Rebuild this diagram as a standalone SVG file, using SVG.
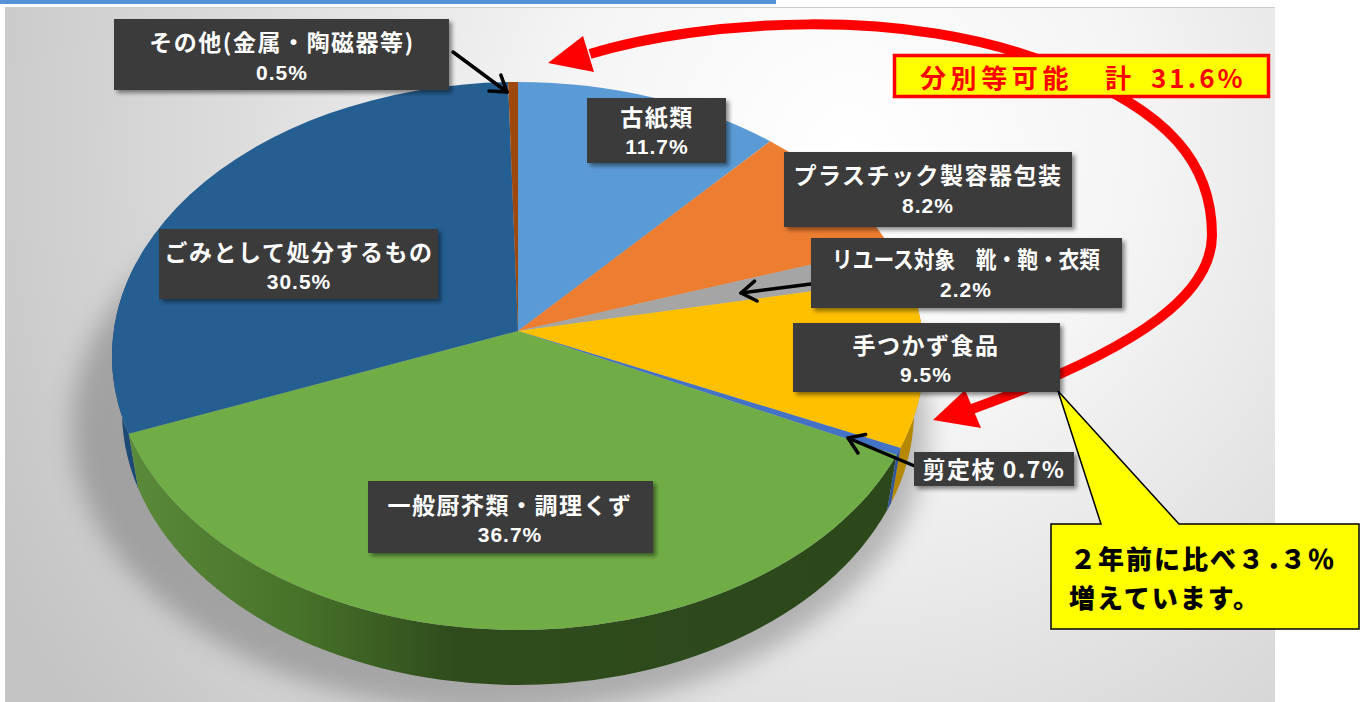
<svg xmlns="http://www.w3.org/2000/svg" width="1366" height="702" viewBox="0 0 1366 702">
<defs>
<radialGradient id="bg" gradientUnits="userSpaceOnUse" cx="850" cy="150" r="950">
<stop offset="0" stop-color="#ffffff"/>
<stop offset="0.3" stop-color="#f5f5f5"/>
<stop offset="1" stop-color="#c4c4c4"/>
</radialGradient>
<linearGradient id="gside" gradientUnits="userSpaceOnUse" x1="130" y1="0" x2="900" y2="0">
<stop offset="0" stop-color="#5a8a3a"/>
<stop offset="0.22" stop-color="#477229"/>
<stop offset="0.42" stop-color="#2f4c1d"/>
<stop offset="1" stop-color="#2c481b"/>
</linearGradient>
<filter id="ds" x="-10%" y="-20%" width="130%" height="150%">
<feDropShadow dx="3" dy="3" stdDeviation="2" flood-color="#000" flood-opacity="0.45"/>
</filter>
<filter id="blur" x="-20%" y="-20%" width="140%" height="140%">
<feGaussianBlur stdDeviation="12"/>
</filter>
<marker id="v" viewBox="-20 -14 24 28" refX="0" refY="0" markerWidth="24" markerHeight="28" markerUnits="userSpaceOnUse" orient="auto">
<path d="M-15,-10 L0,0 L-15,10" fill="none" stroke="#000" stroke-width="3.5" stroke-linecap="round" stroke-linejoin="round"/>
</marker>
<style>
.box{fill:#3b3b3b;filter:url(#ds)}
.lt{font-family:"Noto Sans CJK JP","Noto Sans",sans-serif;font-size:23px;fill:#ffffff;text-anchor:middle;font-weight:bold;letter-spacing:1.5px}
.nt{font-family:"Liberation Sans","Noto Sans CJK JP",sans-serif;font-size:21px;fill:#ffffff;text-anchor:middle;font-weight:bold;letter-spacing:1px}
.arr{fill:none;stroke:#000;stroke-width:3.5;stroke-linecap:round;marker-end:url(#v)}
.red{fill:none;stroke:#ff0000;stroke-width:10}
.redh{fill:#ff0000}
</style>
</defs>

<!-- page chrome / background -->
<rect x="0" y="0" width="776" height="4" fill="#5592d6"/>
<rect x="5" y="7" width="1270" height="695" fill="url(#bg)"/>
<line x1="5" y1="7.5" x2="1275" y2="7.5" stroke="#cccccc" stroke-width="1"/>

<!-- pie shadow -->
<ellipse cx="500" cy="428" rx="428" ry="285" fill="#444" opacity="0.33" filter="url(#blur)"/>

<!-- pie -->
<g id="pie">
<g id="sides">
<path d="M128.7,433.8 A406,274 0 0 1 136.5,262.3 L145.9,317.3 A396,274 0 0 0 138.3,488.8 Z" fill="#1d4a75"/>
<path d="M896.5,455.1 A406,274 0 0 1 128.7,433.8 L138.3,488.8 A396,274 0 0 0 887.2,510.1 Z" fill="url(#gside)"/>
<path d="M907.3,278.2 A406,274 0 0 1 900.5,447.9 L891.1,502.9 A396,274 0 0 0 897.7,333.2 Z" fill="#b58800"/>
<path d="M900.5,447.9 A406,274 0 0 1 896.5,455.1 L887.2,510.1 A396,274 0 0 0 891.1,502.9 Z" fill="#2f5597"/>
</g>
<g id="slice-paper"><path d="M518,331 L518,82 A406,274 0 0 1 770.2,141.3 Z" fill="#5b9bd5"/></g>
<g id="slice-plastic"><path d="M518,331 L770.2,141.3 A406,274 0 0 1 890.3,246.8 Z" fill="#ed7d31"/></g>
<g id="slice-reuse"><path d="M518,331 L890.3,246.8 A406,274 0 0 1 907.3,278.2 Z" fill="#a5a5a5"/></g>
<g id="slice-food"><path d="M518,331 L907.3,278.2 A406,274 0 0 1 900.5,447.9 Z" fill="#ffc000"/></g>
<g id="slice-branch"><path d="M518,331 L900.5,447.9 A406,274 0 0 1 896.5,455.1 Z" fill="#4472c4"/></g>
<g id="slice-kitchen"><path d="M518,331 L896.5,455.1 A406,274 0 0 1 128.7,433.8 Z" fill="#70ad47"/></g>
<g id="slice-garbage"><path d="M518,331 L128.7,433.8 A406,274 0 0 1 508.1,82.1 Z" fill="#255e91"/></g>
<g id="slice-other"><path d="M518,331 L508.1,82.1 A406,274 0 0 1 518,82 Z" fill="#9e480e"/></g>
</g>

<!-- connectors -->
<g id="connectors">
<line class="arr" x1="453" y1="52" x2="507" y2="92"/>
<line class="arr" x1="811" y1="284" x2="741" y2="293"/>
<line class="arr" x1="917" y1="467" x2="848" y2="438"/>
<path class="red" d="M590,54 C700,20 910,5 1055,66 C1172,112 1212,165 1212,235 C1212,290 1150,345 972,409"/>
<polygon class="redh" points="548,63 583,36 594,72"/>
<polygon class="redh" points="933,420 965,390 981,428"/>
</g>

<!-- labels -->
<g id="label-other">
<rect class="box" x="114" y="19" width="335" height="71"/>
<text class="lt" x="282" y="51">その他(金属・陶磁器等)</text>
<text class="nt" x="282" y="80">0.5%</text>
</g>
<g id="label-paper">
<rect class="box" x="587" y="98" width="139" height="65"/>
<text class="lt" x="657" y="126">古紙類</text>
<text class="nt" x="657" y="154">11.7%</text>
</g>
<g id="label-plastic">
<rect class="box" x="784" y="152" width="288" height="75"/>
<text class="lt" x="928" y="184">プラスチック製容器包装</text>
<text class="nt" x="928" y="213">8.2%</text>
</g>
<g id="label-reuse">
<rect class="box" x="811" y="238" width="311" height="70"/>
<text class="lt" x="966" y="268" textLength="268" lengthAdjust="spacingAndGlyphs" style="letter-spacing:0">リユース対象　靴・鞄・衣類</text>
<text class="nt" x="966" y="297">2.2%</text>
</g>
<g id="label-food">
<rect class="box" x="793" y="323" width="267" height="69"/>
<text class="lt" x="926" y="354">手つかず食品</text>
<text class="nt" x="926" y="382">9.5%</text>
</g>
<g id="label-branch">
<rect class="box" x="914" y="452" width="160" height="34"/>
<text class="lt" x="994" y="478">剪定枝 0.7%</text>
</g>
<g id="label-garbage">
<rect class="box" x="159" y="229" width="279" height="70"/>
<text class="lt" x="299" y="261">ごみとして処分するもの</text>
<text class="nt" x="299" y="289">30.5%</text>
</g>
<g id="label-kitchen">
<rect class="box" x="368" y="481" width="285" height="72"/>
<text class="lt" x="510" y="514">一般厨芥類・調理くず</text>
<text class="nt" x="510" y="542">36.7%</text>
</g>

<!-- red total callout -->
<g id="callout-total">
<rect x="894.5" y="55.5" width="374" height="41" fill="#ffff00" stroke="#ff0000" stroke-width="3.5"/>
<text font-family="'Noto Sans CJK JP','Noto Sans',sans-serif" font-size="26" font-weight="bold" fill="#ff0000" y="88"><tspan x="920" letter-spacing="4.6">分別等可能</tspan><tspan x="1105">計</tspan><tspan x="1151" letter-spacing="3">31.6%</tspan></text>
</g>

<!-- yellow note callout -->
<g id="callout-note">
<path d="M1051,524 L1101,524 L1058,391 L1179,524 L1359,524 L1359,629 L1051,629 Z" fill="#ffff00" stroke="#000" stroke-width="1.5"/>
<text font-family="'Noto Sans CJK JP','Noto Sans',sans-serif" font-size="26" font-weight="900" fill="#000" letter-spacing="2"><tspan x="1070" y="569">２年前に比べ３<tspan letter-spacing="-12">．</tspan>３％</tspan><tspan x="1069" y="608">増えています。</tspan></text>
</g>
</svg>
